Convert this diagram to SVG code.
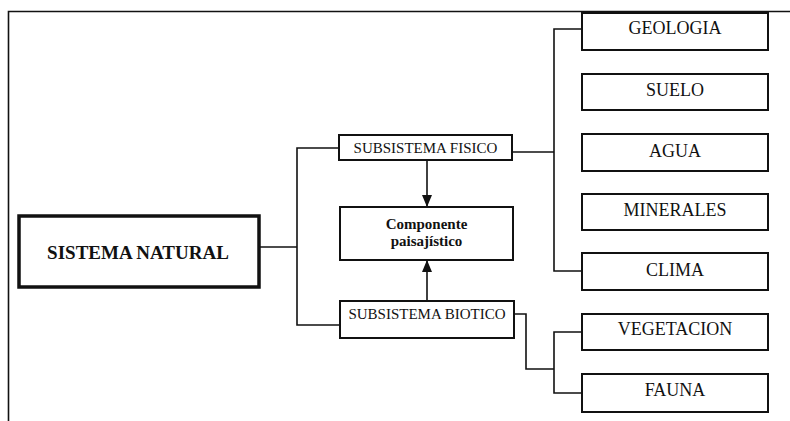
<svg xmlns="http://www.w3.org/2000/svg" width="790" height="421" viewBox="0 0 790 421">
<style>
.box{fill:#fff;stroke:#111;stroke-width:2}
.thick{fill:#fff;stroke:#111;stroke-width:3.5}
.ln{fill:none;stroke:#111;stroke-width:1.6}
.t{font-family:"Liberation Serif","Times New Roman",serif;fill:#111;text-anchor:middle}
.r{font-size:18px}
.s{font-size:15px}
.b{font-weight:bold}
</style>
<defs>
<marker id="ah" viewBox="0 0 12 10" refX="12" refY="5" markerWidth="12" markerHeight="10" markerUnits="userSpaceOnUse" orient="auto">
<path d="M0,0 L12,5 L0,10 Z" fill="#111"/>
</marker>
</defs>
<rect width="790" height="421" fill="#fff"/>
<g id="frame">
<path class="ln" d="M8.5,421 V11.5 H790"/>
</g>
<g id="connectors">
<path class="ln" d="M259,247 H297"/>
<path class="ln" d="M339,148 H297 V325 H340"/>
<path class="ln" d="M512,152 H554"/>
<path class="ln" d="M582,29 H554 V271 H582"/>
<path class="ln" d="M514,314 H526 V369 H554"/>
<path class="ln" d="M582,332 H554 V393 H582"/>
<path class="ln" d="M427,160 V207" marker-end="url(#ah)"/>
<path class="ln" d="M427,301 V260" marker-end="url(#ah)"/>
</g>
<g id="sistema-natural">
<rect class="thick" x="19" y="216" width="240" height="71"/>
<text class="t b" x="138" y="259" font-size="19">SISTEMA NATURAL</text>
</g>
<g id="subsistema-fisico">
<rect class="box" x="339" y="135" width="173" height="25"/>
<text class="t s" x="425.5" y="153">SUBSISTEMA FISICO</text>
</g>
<g id="componente">
<rect class="box" x="340" y="207" width="173" height="53"/>
<text class="t s b" x="426.5" y="229">Componente</text>
<text class="t s b" x="426.5" y="246">paisajístico</text>
</g>
<g id="subsistema-biotico">
<rect class="box" x="340" y="301" width="174" height="37"/>
<text class="t s" x="427" y="319">SUBSISTEMA BIOTICO</text>
</g>
<g id="geologia">
<rect class="box" x="582" y="13" width="186" height="37"/>
<text class="t r" x="675" y="34">GEOLOGIA</text>
</g>
<g id="suelo">
<rect class="box" x="582" y="74" width="186" height="36"/>
<text class="t r" x="675" y="96">SUELO</text>
</g>
<g id="agua">
<rect class="box" x="582" y="134" width="186" height="37"/>
<text class="t r" x="675" y="157">AGUA</text>
</g>
<g id="minerales">
<rect class="box" x="582" y="194" width="186" height="36"/>
<text class="t r" x="675" y="216">MINERALES</text>
</g>
<g id="clima">
<rect class="box" x="582" y="253" width="186" height="37"/>
<text class="t r" x="675" y="276">CLIMA</text>
</g>
<g id="vegetacion">
<rect class="box" x="582" y="314" width="186" height="36"/>
<text class="t r" x="675" y="335">VEGETACION</text>
</g>
<g id="fauna">
<rect class="box" x="582" y="374" width="186" height="38"/>
<text class="t r" x="675" y="396">FAUNA</text>
</g>
</svg>
